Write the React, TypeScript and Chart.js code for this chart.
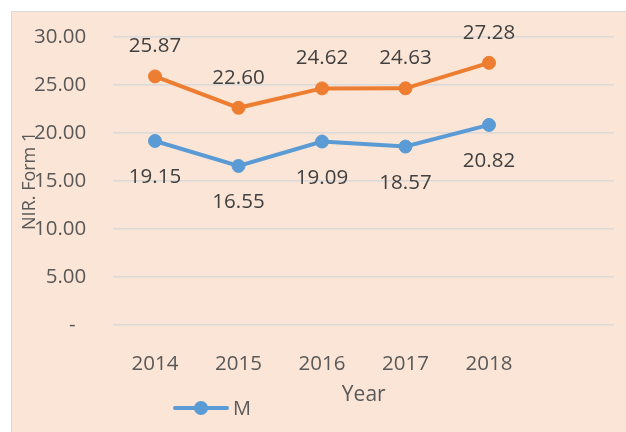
import React, { useEffect, useRef } from 'react';
import { Chart, registerables } from 'chart.js';

Chart.register(...registerables);

const categories = ['2014', '2015', '2016', '2017', '2018', ''];
const seriesM = [19.15, 16.55, 19.09, 18.57, 20.82, null];
const seriesF = [25.87, 22.6, 24.62, 24.63, 27.28, null];
const yMin = 0;
const yMax = 30;
const yStep = 5;

const FONT = "'Open Sans', 'Liberation Sans', sans-serif";
const BLUE = '#5B9BD5';
const ORANGE = '#ED7D31';
const TICK_COLOR = '#595959';
const LABEL_COLOR = '#404040';

const valueLabelPlugin = {
  id: 'valueLabels',
  afterDatasetsDraw(chart: any) {
    const ctx = chart.ctx;
    chart.data.datasets.forEach((ds: any, i: number) => {
      const meta = chart.getDatasetMeta(i);
      meta.data.forEach((pt: any, j: number) => {
        const v = ds.data[j];
        if (v == null) return;
        ctx.save();
        ctx.font = `20.5px ${FONT}`;
        ctx.fillStyle = LABEL_COLOR;
        ctx.textAlign = 'center';
        ctx.textBaseline = 'alphabetic';
        const dy = ds.labelPos === 'above' ? -24 : 42;
        ctx.fillText(Number(v).toFixed(2), pt.x, pt.y + dy);
        ctx.restore();
      });
    });
  },
};

const legendPlugin = {
  id: 'customLegend',
  afterDraw(chart: any) {
    const ctx = chart.ctx;
    const ds = chart.data.datasets[0];
    const y = 396;
    ctx.save();
    ctx.strokeStyle = ds.borderColor;
    ctx.lineWidth = 4;
    ctx.lineCap = 'round';
    ctx.beginPath();
    ctx.moveTo(163, y);
    ctx.lineTo(215, y);
    ctx.stroke();
    ctx.fillStyle = ds.backgroundColor;
    ctx.beginPath();
    ctx.arc(189, y, 7, 0, Math.PI * 2);
    ctx.fill();
    ctx.font = `20px ${FONT}`;
    ctx.fillStyle = TICK_COLOR;
    ctx.textAlign = 'left';
    ctx.textBaseline = 'middle';
    ctx.fillText(ds.label, 221, y + 1);
    ctx.restore();
  },
};

export default function App() {
  const ref = useRef<HTMLCanvasElement>(null);

  useEffect(() => {
    if (!ref.current) return;
    const chart = new Chart(ref.current, {
      type: 'line',
      data: {
        labels: categories,
        datasets: [
          {
            label: 'M',
            data: seriesM,
            borderColor: BLUE,
            backgroundColor: BLUE,
            borderWidth: 4,
            pointRadius: 6.5,
            pointBorderWidth: 1,
            pointBackgroundColor: BLUE,
            pointBorderColor: BLUE,
            tension: 0,
            labelPos: 'below',
          } as any,
          {
            label: 'F',
            data: seriesF,
            borderColor: ORANGE,
            backgroundColor: ORANGE,
            borderWidth: 4,
            pointRadius: 6.5,
            pointBorderWidth: 1,
            pointBackgroundColor: ORANGE,
            pointBorderColor: ORANGE,
            tension: 0,
            labelPos: 'above',
          } as any,
        ],
      },
      options: {
        animation: false,
        responsive: false,
        maintainAspectRatio: false,
        layout: { padding: { left: 0, right: 11.75, top: 24.7, bottom: 0 } },
        plugins: {
          legend: { display: false },
          tooltip: { enabled: false },
        },
        scales: {
          x: {
            offset: true,
            grid: { display: false },
            border: { display: false },
            ticks: {
              color: TICK_COLOR,
              font: { family: FONT, size: 20.5 },
              padding: 19,
              maxRotation: 0,
              autoSkip: false,
            },
            title: {
              display: true,
              text: 'Year',
              color: TICK_COLOR,
              font: { family: FONT, size: 21 },
              padding: { top: 0, bottom: 24.4 },
            },
            afterFit(scale: any) {
              scale.height = 107;
            },
          },
          y: {
            min: yMin,
            max: yMax,
            grid: {
              color: '#D9D9D9',
              lineWidth: 1.5,
              drawTicks: true,
              tickLength: 27,
              tickColor: 'rgba(0,0,0,0)',
            },
            border: { display: false },
            ticks: {
              stepSize: yStep,
              color: TICK_COLOR,
              font: { family: FONT, size: 20.5 },
              padding: 0,
              callback: (v: any) => (Number(v) === 0 ? '-  ' : Number(v).toFixed(2)),
            },
            title: {
              display: true,
              text: 'NIR. Form 1',
              color: TICK_COLOR,
              font: { family: FONT, size: 18 },
              padding: { top: 6.7, bottom: 0 },
            },
            afterFit(scale: any) {
              scale.width = 101.25;
            },
          },
        },
      },
      plugins: [valueLabelPlugin, legendPlugin],
    });
    return () => chart.destroy();
  }, []);

  return (
    <div
      style={{
        position: 'fixed',
        left: 11,
        top: 11,
        width: 615,
        height: 421,
        boxSizing: 'border-box',
        borderLeft: '1px solid #D9D9D9',
        borderTop: '1px solid #D9D9D9',
        background: '#FBE5D6',
        overflow: 'hidden',
      }}
    >
      <canvas ref={ref} width={614} height={420} style={{ display: 'block' }} />
    </div>
  );
}
